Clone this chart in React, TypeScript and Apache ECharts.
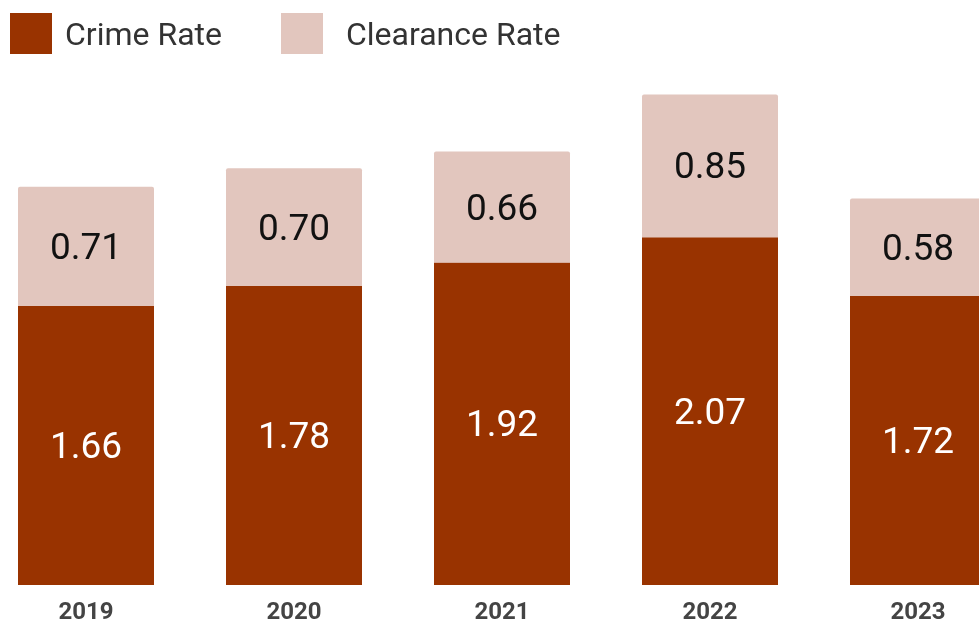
import React, { useEffect, useRef } from "react";
import * as echarts from "echarts";

const categories = ["2019", "2020", "2021", "2022", "2023"];
const crimeRate = [1.66, 1.78, 1.92, 2.07, 1.72];
const clearanceRate = [0.71, 0.7, 0.66, 0.85, 0.58];

export default function App() {
  const ref = useRef<HTMLDivElement>(null);
  useEffect(() => {
    const chart = echarts.init(ref.current!, null, { renderer: "svg" });
    const legendBase = {
      top: 8,
      itemWidth: 42,
      itemHeight: 41,
      icon: "rect",
    };
    chart.setOption({
      animation: false,
      legend: [
        {
          ...legendBase,
          left: 23,
          textStyle: { fontFamily: "Roboto", fontSize: 32, color: "#333", padding: [0, 0, 0, 8] },
          data: ["Crime Rate"],
        },
        {
          ...legendBase,
          left: 294,
          textStyle: { fontFamily: "Roboto", fontSize: 32, color: "#333", padding: [0, 0, 0, 18] },
          data: ["Clearance Rate"],
        },
      ],
      grid: { left: 0, right: 0, top: 81, bottom: 39 },
      xAxis: {
        type: "category",
        data: categories,
        axisLine: { show: false },
        axisTick: { show: false },
        axisLabel: {
          fontFamily: "Roboto",
          fontSize: 24,
          lineHeight: 22,
          fontWeight: "bold",
          color: "#444",
          margin: 15,
        },
      },
      yAxis: { type: "value", min: 0, max: 3, show: false, splitLine: { show: false } },
      series: [
        {
          name: "Crime Rate",
          type: "bar",
          stack: "a",
          data: crimeRate,
          barWidth: 136,
          itemStyle: { color: "#993300" },
          label: {
            show: true,
            position: "inside",
            formatter: (p: any) => p.value.toFixed(2),
            color: "#fff",
            fontFamily: "Roboto",
            fontSize: 37,
          },
        },
        {
          name: "Clearance Rate",
          type: "bar",
          stack: "a",
          data: clearanceRate,
          barWidth: 136,
          itemStyle: { color: "#E2C6BE", borderRadius: [2, 2, 0, 0] },
          label: {
            show: true,
            position: "inside",
            formatter: (p: any) => p.value.toFixed(2),
            color: "#111",
            fontFamily: "Roboto",
            fontSize: 37,
          },
        },
      ],
    });
    return () => chart.dispose();
  }, []);
  return (
    <div
      ref={ref}
      style={{ position: "fixed", left: -18, top: 0, width: 1040, height: 624 }}
    />
  );
}
